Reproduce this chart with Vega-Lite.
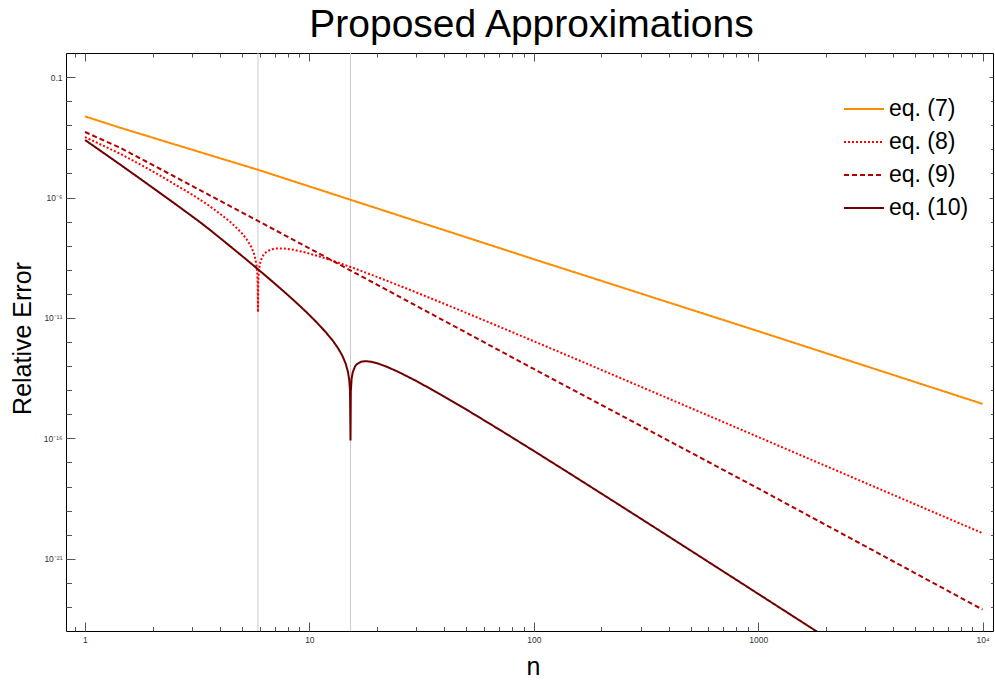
{
  "$schema": "https://vega.github.io/schema/vega-lite/v6.json",
  "width": 927,
  "height": 578,
  "autosize": {"type": "none"},
  "padding": {"left": 66, "top": 53, "right": 2, "bottom": 49},
  "title": {"text": "Proposed Approximations", "fontSize": 39, "font": "Liberation Sans", "fontWeight": "normal", "color": "#000", "anchor": "middle", "frame": "group", "offset": 8, "dx": 2},
  "config": {"view": {"stroke": "#000", "strokeWidth": 1}, "font": "Liberation Sans"},
  "datasets": {
    "zeros": [{"n": 5.9}, {"n": 15.25}],
    "curves": [
      {"eq": "eq. (7)", "n": 1, "err": 2.34e-3},
      {"eq": "eq. (7)", "n": 1.432, "err": 7.94e-4},
      {"eq": "eq. (7)", "n": 3.162, "err": 8.32e-5},
      {"eq": "eq. (7)", "n": 6.03, "err": 1.33e-5},
      {"eq": "eq. (7)", "n": 10, "err": 2.88e-6},
      {"eq": "eq. (7)", "n": 100, "err": 2.75e-9},
      {"eq": "eq. (7)", "n": 1000, "err": 2.82e-12},
      {"eq": "eq. (7)", "n": 10000, "err": 2.69e-15},

      {"eq": "eq. (8)", "n": 1, "err": 3.24e-4},
      {"eq": "eq. (8)", "n": 1.2, "err": 1.45e-4},
      {"eq": "eq. (8)", "n": 1.432, "err": 6.61e-5},
      {"eq": "eq. (8)", "n": 1.7, "err": 2.82e-5},
      {"eq": "eq. (8)", "n": 2, "err": 1.23e-5},
      {"eq": "eq. (8)", "n": 2.5, "err": 3.63e-6},
      {"eq": "eq. (8)", "n": 3, "err": 1.32e-6},
      {"eq": "eq. (8)", "n": 3.5, "err": 5.25e-7},
      {"eq": "eq. (8)", "n": 4, "err": 2.09e-7},
      {"eq": "eq. (8)", "n": 4.5, "err": 8.71e-8},
      {"eq": "eq. (8)", "n": 5, "err": 3.31e-8},
      {"eq": "eq. (8)", "n": 5.3, "err": 1.65e-8},
      {"eq": "eq. (8)", "n": 5.5, "err": 9.12e-9},
      {"eq": "eq. (8)", "n": 5.65, "err": 4.99e-9},
      {"eq": "eq. (8)", "n": 5.75, "err": 2.74e-9},
      {"eq": "eq. (8)", "n": 5.82, "err": 1.37e-9},
      {"eq": "eq. (8)", "n": 5.86, "err": 6.65e-10},
      {"eq": "eq. (8)", "n": 5.885, "err": 2.44e-10},
      {"eq": "eq. (8)", "n": 5.9, "err": 1.74e-11},
      {"eq": "eq. (8)", "n": 5.915, "err": 2.38e-10},
      {"eq": "eq. (8)", "n": 5.94, "err": 6.21e-10},
      {"eq": "eq. (8)", "n": 5.98, "err": 1.20e-9},
      {"eq": "eq. (8)", "n": 6.05, "err": 2.12e-9},
      {"eq": "eq. (8)", "n": 6.15, "err": 3.27e-9},
      {"eq": "eq. (8)", "n": 6.3, "err": 4.62e-9},
      {"eq": "eq. (8)", "n": 6.5, "err": 5.94e-9},
      {"eq": "eq. (8)", "n": 6.8, "err": 7.11e-9},
      {"eq": "eq. (8)", "n": 7.2, "err": 7.71e-9},
      {"eq": "eq. (8)", "n": 7.7, "err": 7.64e-9},
      {"eq": "eq. (8)", "n": 8.5, "err": 6.73e-9},
      {"eq": "eq. (8)", "n": 9.5, "err": 5.35e-9},
      {"eq": "eq. (8)", "n": 11, "err": 3.64e-9},
      {"eq": "eq. (8)", "n": 13, "err": 2.20e-9},
      {"eq": "eq. (8)", "n": 16, "err": 1.11e-9},
      {"eq": "eq. (8)", "n": 20, "err": 5.06e-10},
      {"eq": "eq. (8)", "n": 25, "err": 2.24e-10},
      {"eq": "eq. (8)", "n": 32, "err": 8.93e-11},
      {"eq": "eq. (8)", "n": 40, "err": 3.82e-11},
      {"eq": "eq. (8)", "n": 50, "err": 1.62e-11},
      {"eq": "eq. (8)", "n": 65, "err": 5.85e-12},
      {"eq": "eq. (8)", "n": 80, "err": 2.59e-12},
      {"eq": "eq. (8)", "n": 100, "err": 1.08e-12},
      {"eq": "eq. (8)", "n": 150, "err": 2.18e-13},
      {"eq": "eq. (8)", "n": 200, "err": 6.97e-14},
      {"eq": "eq. (8)", "n": 300, "err": 1.39e-14},
      {"eq": "eq. (8)", "n": 500, "err": 1.82e-15},
      {"eq": "eq. (8)", "n": 1000, "err": 1.14e-16},
      {"eq": "eq. (8)", "n": 2000, "err": 7.16e-18},
      {"eq": "eq. (8)", "n": 5000, "err": 1.84e-19},
      {"eq": "eq. (8)", "n": 10000, "err": 1.15e-20},

      {"eq": "eq. (9)", "n": 1, "err": 5.25e-4},
      {"eq": "eq. (9)", "n": 1.432, "err": 1.175e-4},
      {"eq": "eq. (9)", "n": 2, "err": 2.26e-5},
      {"eq": "eq. (9)", "n": 3.162, "err": 2.34e-6},
      {"eq": "eq. (9)", "n": 5, "err": 2.42e-7},
      {"eq": "eq. (9)", "n": 10, "err": 7.76e-9},
      {"eq": "eq. (9)", "n": 30, "err": 3.16e-11},
      {"eq": "eq. (9)", "n": 100, "err": 7.59e-14},
      {"eq": "eq. (9)", "n": 300, "err": 3.27e-16},
      {"eq": "eq. (9)", "n": 1000, "err": 8.32e-19},
      {"eq": "eq. (9)", "n": 3000, "err": 3.32e-21},
      {"eq": "eq. (9)", "n": 10000, "err": 7.76e-24},

      {"eq": "eq. (10)", "n": 1, "err": 2.45e-4},
      {"eq": "eq. (10)", "n": 1.2, "err": 7.48e-5},
      {"eq": "eq. (10)", "n": 1.432, "err": 2.36e-5},
      {"eq": "eq. (10)", "n": 1.7, "err": 7.59e-6},
      {"eq": "eq. (10)", "n": 2, "err": 2.57e-6},
      {"eq": "eq. (10)", "n": 2.5, "err": 5.77e-7},
      {"eq": "eq. (10)", "n": 2.94, "err": 1.91e-7},
      {"eq": "eq. (10)", "n": 3.25, "err": 9.57e-8},
      {"eq": "eq. (10)", "n": 3.6, "err": 4.58e-8},
      {"eq": "eq. (10)", "n": 4, "err": 2.07e-8},
      {"eq": "eq. (10)", "n": 4.5, "err": 8.48e-9},
      {"eq": "eq. (10)", "n": 5, "err": 3.79e-9},
      {"eq": "eq. (10)", "n": 5.6, "err": 1.58e-9},
      {"eq": "eq. (10)", "n": 6.3, "err": 6.26e-10},
      {"eq": "eq. (10)", "n": 7, "err": 2.70e-10},
      {"eq": "eq. (10)", "n": 7.8, "err": 1.12e-10},
      {"eq": "eq. (10)", "n": 8.7, "err": 4.49e-11},
      {"eq": "eq. (10)", "n": 9.7, "err": 1.74e-11},
      {"eq": "eq. (10)", "n": 10.8, "err": 6.42e-12},
      {"eq": "eq. (10)", "n": 11.8, "err": 2.63e-12},
      {"eq": "eq. (10)", "n": 12.7, "err": 1.15e-12},
      {"eq": "eq. (10)", "n": 13.4, "err": 5.65e-13},
      {"eq": "eq. (10)", "n": 14, "err": 2.79e-13},
      {"eq": "eq. (10)", "n": 14.5, "err": 1.30e-13},
      {"eq": "eq. (10)", "n": 14.85, "err": 5.83e-14},
      {"eq": "eq. (10)", "n": 15.05, "err": 2.65e-14},
      {"eq": "eq. (10)", "n": 15.17, "err": 1.00e-14},
      {"eq": "eq. (10)", "n": 15.25, "err": 8.13e-17},
      {"eq": "eq. (10)", "n": 15.3, "err": 9.04e-15},
      {"eq": "eq. (10)", "n": 15.42, "err": 2.91e-14},
      {"eq": "eq. (10)", "n": 15.6, "err": 5.52e-14},
      {"eq": "eq. (10)", "n": 16, "err": 9.91e-14},
      {"eq": "eq. (10)", "n": 16.26, "err": 1.19e-13},
      {"eq": "eq. (10)", "n": 17, "err": 1.51e-13},
      {"eq": "eq. (10)", "n": 17.8, "err": 1.60e-13},
      {"eq": "eq. (10)", "n": 18.8, "err": 1.52e-13},
      {"eq": "eq. (10)", "n": 20, "err": 1.32e-13},
      {"eq": "eq. (10)", "n": 22, "err": 9.59e-14},
      {"eq": "eq. (10)", "n": 25, "err": 5.66e-14},
      {"eq": "eq. (10)", "n": 30, "err": 2.39e-14},
      {"eq": "eq. (10)", "n": 38.2, "err": 6.85e-15},
      {"eq": "eq. (10)", "n": 50, "err": 1.58e-15},
      {"eq": "eq. (10)", "n": 70.6, "err": 2.25e-16},
      {"eq": "eq. (10)", "n": 100, "err": 3.01e-17},
      {"eq": "eq. (10)", "n": 150, "err": 2.80e-18},
      {"eq": "eq. (10)", "n": 226, "err": 2.48e-19},
      {"eq": "eq. (10)", "n": 350, "err": 1.85e-20},
      {"eq": "eq. (10)", "n": 500, "err": 2.20e-21},
      {"eq": "eq. (10)", "n": 700, "err": 2.95e-22},
      {"eq": "eq. (10)", "n": 1000, "err": 3.49e-23},
      {"eq": "eq. (10)", "n": 1400, "err": 4.66e-24},
      {"eq": "eq. (10)", "n": 1900, "err": 7.48e-25}
    ]
  },
  "layer": [
    {
      "data": {"name": "zeros"},
      "mark": {"type": "rule", "color": "#cccccc", "strokeWidth": 1},
      "encoding": {
        "x": {"field": "n", "type": "quantitative", "scale": {"type": "log", "domain": [0.823, 11130], "nice": false}, "axis": null}
      }
    },
    {
      "data": {"name": "curves"},
      "transform": [{"filter": "datum.eq == 'eq. (7)' || datum.eq == 'eq. (8)'"}],
      "mark": {"type": "line", "strokeWidth": 2, "clip": true},
      "encoding": {
        "x": {
          "field": "n", "type": "quantitative",
          "scale": {"type": "log", "domain": [0.823, 11130], "nice": false},
          "axis": {
            "orient": "bottom",
            "values": [0.9, 1, 2, 3, 4, 5, 6, 7, 8, 9, 10, 20, 30, 40, 50, 60, 70, 80, 90, 100, 200, 300, 400, 500, 600, 700, 800, 900, 1000, 2000, 3000, 4000, 5000, 6000, 7000, 8000, 9000, 10000],
            "labelExpr": "datum.value == 1 ? '1' : datum.value == 10 ? '10' : datum.value == 100 ? '100' : datum.value == 1000 ? '1000' : datum.value == 10000 ? '10⁴' : ''",
            "tickSize": {"condition": {"test": "indexof([1, 10, 100, 1000, 10000], datum.value) >= 0", "value": -9}, "value": -4.5},
            "tickColor": "#555", "tickWidth": 1,
            "domain": false, "grid": false,
            "labelPadding": 13, "labelFontSize": 8.5, "labelColor": "#333", "labelFont": "Liberation Sans",
            "labelOverlap": false, "labelFlush": false, "labelBound": false,
            "title": "n", "titleFontSize": 25, "titleFontWeight": "normal", "titleFont": "Liberation Sans", "titleColor": "#000",
            "titleX": 467, "titleY": 43, "titleBaseline": "alphabetic", "titleAlign": "center"
          }
        },
        "y": {
          "field": "err", "type": "quantitative",
          "scale": {"type": "log", "domain": [1e-24, 1], "nice": false},
          "axis": {
            "orient": "left",
            "values": [0.1, 0.01, 0.001, 1e-4, 1e-5, 1e-6, 1e-7, 1e-8, 1e-9, 1e-10, 1e-11, 1e-12, 1e-13, 1e-14, 1e-15, 1e-16, 1e-17, 1e-18, 1e-19, 1e-20, 1e-21, 1e-22, 1e-23],
            "labelExpr": "datum.value == 0.1 ? '0.1' : datum.value == 1e-6 ? '10⁻⁶' : datum.value == 1e-11 ? '10⁻¹¹' : datum.value == 1e-16 ? '10⁻¹⁶' : datum.value == 1e-21 ? '10⁻²¹' : ''",
            "tickSize": {"condition": {"test": "indexof([0.1, 1e-6, 1e-11, 1e-16, 1e-21], datum.value) >= 0", "value": -9}, "value": -5.5},
            "tickColor": "#555", "tickWidth": 1,
            "domain": false, "grid": false,
            "labelPadding": 13, "labelFontSize": 8.5, "labelColor": "#333", "labelFont": "Liberation Sans",
            "labelOverlap": false, "labelFlush": false, "labelBound": false,
            "title": "Relative Error", "titleFontSize": 25, "titleFontWeight": "normal", "titleFont": "Liberation Sans", "titleColor": "#000",
            "titleX": -44, "titleY": 285, "titleAngle": -90, "titleBaseline": "middle", "titleAlign": "center"
          }
        },
        "color": {
          "field": "eq", "type": "nominal",
          "scale": {"domain": ["eq. (7)", "eq. (8)", "eq. (9)", "eq. (10)"], "range": ["#FF8C00", "#FF0000", "#B00000", "#6E0000"]},
          "legend": {"title": null, "orient": "none", "legendX": 777, "legendY": 35, "padding": 0, "symbolType": "stroke", "symbolSize": 1600, "symbolStrokeWidth": 2, "labelFontSize": 23, "labelFont": "Liberation Sans", "labelColor": "#000", "labelOffset": 4, "rowPadding": -9}
        },
        "strokeDash": {
          "field": "eq", "type": "nominal",
          "scale": {"domain": ["eq. (7)", "eq. (8)", "eq. (9)", "eq. (10)"], "range": [[1, 0], [2, 2], [5, 3], [1, 0]]},
          "legend": {"title": null, "orient": "none", "legendX": 777, "legendY": 35, "padding": 0, "symbolType": "stroke", "symbolSize": 1600, "symbolStrokeWidth": 2, "labelFontSize": 23, "labelFont": "Liberation Sans", "labelColor": "#000", "labelOffset": 4, "rowPadding": -9}
        }
      }
    },
    {
      "data": {"name": "curves"},
      "transform": [{"filter": "datum.eq == 'eq. (9)' || datum.eq == 'eq. (10)'"}],
      "mark": {"type": "line", "strokeWidth": 2, "clip": true},
      "encoding": {
        "x": {
          "field": "n", "type": "quantitative",
          "scale": {"type": "log", "domain": [0.823, 11130], "nice": false},
          "axis": {
            "orient": "top",
            "values": [0.9, 1, 2, 3, 4, 5, 6, 7, 8, 9, 10, 20, 30, 40, 50, 60, 70, 80, 90, 100, 200, 300, 400, 500, 600, 700, 800, 900, 1000, 2000, 3000, 4000, 5000, 6000, 7000, 8000, 9000, 10000],
            "labels": false,
            "tickSize": {"condition": {"test": "indexof([1, 10, 100, 1000, 10000], datum.value) >= 0", "value": -8}, "value": -4},
            "tickColor": "#555", "tickWidth": 1,
            "domain": false, "grid": false, "title": null
          }
        },
        "y": {
          "field": "err", "type": "quantitative",
          "scale": {"type": "log", "domain": [1e-24, 1], "nice": false},
          "axis": {
            "orient": "right",
            "values": [0.1, 0.01, 0.001, 1e-4, 1e-5, 1e-6, 1e-7, 1e-8, 1e-9, 1e-10, 1e-11, 1e-12, 1e-13, 1e-14, 1e-15, 1e-16, 1e-17, 1e-18, 1e-19, 1e-20, 1e-21, 1e-22, 1e-23],
            "labels": false,
            "tickSize": {"condition": {"test": "indexof([0.1, 1e-6, 1e-11, 1e-16, 1e-21], datum.value) >= 0", "value": -4}, "value": -2.5},
            "tickColor": "#555", "tickWidth": 1,
            "domain": false, "grid": false, "title": null
          }
        },
        "color": {"field": "eq", "type": "nominal"},
        "strokeDash": {"field": "eq", "type": "nominal"}
      }
    }
  ],
  "resolve": {"axis": {"x": "independent", "y": "independent"}}
}
